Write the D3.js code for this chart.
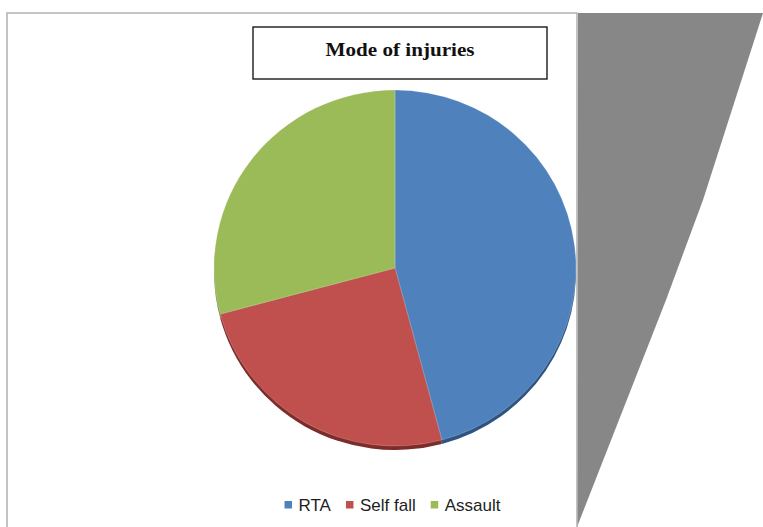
<!DOCTYPE html>
<html>
<head>
<meta charset="utf-8">
<script src="https://cdn.jsdelivr.net/npm/d3@7"></script>
<style>
  html, body { margin: 0; padding: 0; background: #fff; }
  svg { display: block; }
</style>
</head>
<body>
<svg id="chart" width="763" height="527"></svg>
<script>
// Mode of injuries: number of cases per mode
const categories = ["RTA", "Self fall", "Assault"];
const cases = [55, 30, 35];
const colors = ["#4f81bd", "#c0504d", "#9bbb59"];
const rimColors = ["#2f5482", "#7d2c2a", "#6b8a36"];
const chartTitle = "Mode of injuries";

const W = 763, H = 527;
const svg = d3.select("#chart");

// Plot frame and side panel
const frame = { left: 7, top: 13, right: 577 };

svg.append("polygon")
  .attr("points", [
    [frame.right + 1, frame.top], [W, frame.top], [703, 200], [666, 300], [frame.right, H]
  ].map(p => p.join(",")).join(" "))
  .attr("fill", "#878787");

svg.append("path")
  .attr("d", `M${frame.left},${H} V${frame.top} H${frame.right} V${H}`)
  .attr("fill", "none")
  .attr("stroke", "#b4b4b4")
  .attr("stroke-width", 1.6);

// Title box
const titleBox = { x: 253, y: 27, w: 294, h: 52 };
svg.append("rect")
  .attr("x", titleBox.x).attr("y", titleBox.y)
  .attr("width", titleBox.w).attr("height", titleBox.h)
  .attr("fill", "#fff")
  .attr("stroke", "#1a1a1a")
  .attr("stroke-width", 1.4);
svg.append("text")
  .attr("x", titleBox.x + titleBox.w / 2)
  .attr("y", titleBox.y + 29)
  .attr("text-anchor", "middle")
  .attr("font-family", "'Liberation Serif', 'Times New Roman', serif")
  .attr("font-weight", "bold")
  .attr("font-size", 19)
  .attr("textLength", 149)
  .attr("lengthAdjust", "spacingAndGlyphs")
  .attr("fill", "#111")
  .text(chartTitle);

// Pie (slightly tilted, with a thin rim underneath)
const cx = 395, cy = 268, rx = 181, ry = 178, depth = 4;
const pie = d3.pie().sort(null).value(d => d.value);
const arcs = pie(categories.map((c, i) => ({ name: c, value: cases[i], i })));
const arc = d3.arc().innerRadius(0).outerRadius(rx);

const rimLayer = svg.append("g")
  .attr("transform", `translate(${cx},${cy + depth}) scale(1,${ry / rx})`);
rimLayer.selectAll("path")
  .data(arcs)
  .join("path")
  .attr("d", arc)
  .attr("fill", d => rimColors[d.data.i]);

const faceLayer = svg.append("g")
  .attr("transform", `translate(${cx},${cy}) scale(1,${ry / rx})`);
faceLayer.selectAll("path")
  .data(arcs)
  .join("path")
  .attr("d", arc)
  .attr("fill", d => colors[d.data.i])
  .attr("stroke", "rgba(255,255,255,0.35)")
  .attr("stroke-width", 0.6);

// Legend
const legend = svg.append("g").attr("font-family", "'Liberation Sans', Arial, sans-serif")
  .attr("font-size", 17).attr("fill", "#1e1e1e");
const legendY = 511, sw = 7.5, gap = 6.5, itemGap = 15;
const items = legend.selectAll("g").data(categories).join("g");
items.append("rect")
  .attr("width", sw).attr("height", sw)
  .attr("y", legendY - 10)
  .attr("fill", (d, i) => colors[i]);
items.append("text")
  .attr("x", sw + gap)
  .attr("y", legendY)
  .text(d => d);
let widths = [];
items.each(function () {
  widths.push(sw + gap + d3.select(this).select("text").node().getComputedTextLength());
});
const total = d3.sum(widths) + itemGap * (widths.length - 1);
let xPos = 392.5 - total / 2;
items.attr("transform", (d, i) => {
  const t = `translate(${xPos},0)`;
  xPos += widths[i] + itemGap;
  return t;
});
</script>
</body>
</html>
